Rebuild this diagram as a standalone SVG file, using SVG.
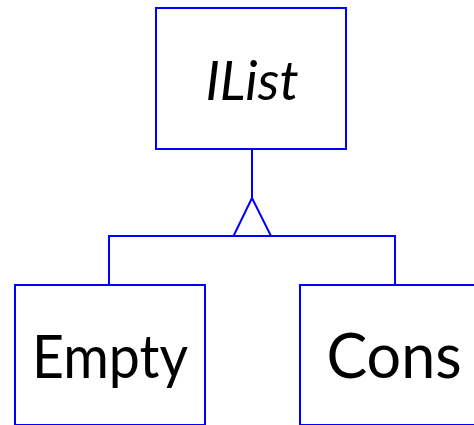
<svg xmlns="http://www.w3.org/2000/svg" width="474" height="425" viewBox="0 0 474 425">
<style>
.box{fill:#fff;stroke:#0000ff;stroke-width:2}
.ln{fill:none;stroke:#0000ff;stroke-width:2}
.t{font-family:Lato,"Open Sans",sans-serif;fill:#000;text-anchor:middle}
</style>
<rect width="474" height="425" fill="#fff"/>
<g id="connectors">
<line class="ln" x1="252" y1="149" x2="252" y2="198"/>
<polygon class="ln" points="252,198 233.5,236 271,236"/>
<polyline class="ln" points="109,285 109,236 395,236 395,285"/>
</g>
<g id="IList">
<rect class="box" x="156" y="8" width="190" height="141"/>
<text class="t" x="252" y="100" font-size="54" font-style="italic">IList</text>
</g>
<g id="Empty">
<rect class="box" x="15" y="285" width="190" height="140"/>
<text class="t" x="110" y="378" font-size="60" textLength="156" lengthAdjust="spacingAndGlyphs">Empty</text>
</g>
<g id="Cons">
<rect class="box" x="300" y="285" width="190" height="140"/>
<text class="t" x="394" y="378" font-size="61">Cons</text>
</g>
</svg>
